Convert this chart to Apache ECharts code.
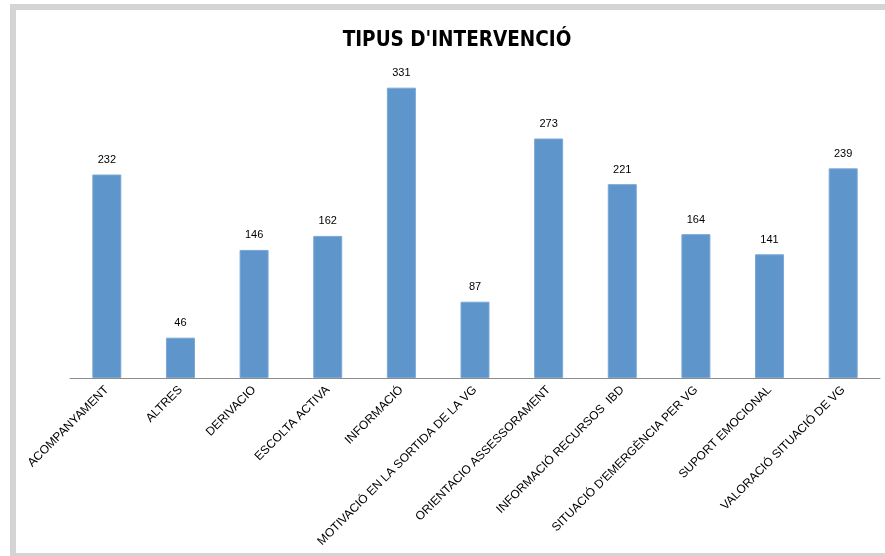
<!DOCTYPE html>
<html>
<head>
<meta charset="utf-8">
<script src="https://cdn.jsdelivr.net/npm/echarts@6/dist/echarts.min.js"></script>
<style>
html,body{margin:0;padding:0;background:#fff;width:885px;height:556px;overflow:hidden;}
#frame{position:absolute;left:10px;top:4px;width:900px;height:555px;box-sizing:border-box;border:6px solid #d4d4d4;pointer-events:none;}
#chart{position:absolute;left:0;top:0;width:885px;height:556px;}
</style>
</head>
<body>
<div id="frame"></div>
<div id="chart"></div>
<script>
const titleText = "TIPUS D'INTERVENCIÓ";
const categories = [
  "ACOMPANYAMENT",
  "ALTRES",
  "DERIVACIO",
  "ESCOLTA ACTIVA",
  "INFORMACIÓ",
  "MOTIVACIÓ EN LA SORTIDA DE LA VG",
  "ORIENTACIO ASSESSORAMENT",
  "INFORMACIÓ RECURSOS  IBD",
  "SITUACIÓ D'EMERGÈNCIA PER VG",
  "SUPORT EMOCIONAL",
  "VALORACIÓ SITUACIÓ DE VG"
];
const values = [232, 46, 146, 162, 331, 87, 273, 221, 164, 141, 239];

const chart = echarts.init(document.getElementById('chart'));
chart.setOption({
  animation: false,
  backgroundColor: 'transparent',
  title: {
    text: titleText,
    left: 452,
    textAlign: 'center',
    top: 25,
    textStyle: {fontFamily: 'DejaVu Sans Condensed', fontWeight: 'bold', fontSize: 20.5, color: '#000'}
  },
  grid: {left: 70, right: 5, top: 71, bottom: 178, containLabel: false},
  xAxis: {
    type: 'category',
    data: categories,
    axisLine: {lineStyle: {color: '#8c8c8c', width: 1}},
    axisTick: {show: false},
    axisLabel: {
      rotate: 45,
      interval: 0,
      margin: 10,
      color: '#000',
      fontFamily: 'Liberation Sans',
      fontSize: 12
    }
  },
  yAxis: {
    type: 'value',
    min: 0,
    max: 350,
    show: false
  },
  series: [{
    type: 'bar',
    data: values,
    barWidth: 29,
    itemStyle: {color: '#5e95ca', borderColor: '#7aa8d6', borderWidth: 1},
    label: {
      show: true,
      position: 'top',
      distance: 9,
      color: '#000',
      fontFamily: 'Liberation Sans',
      fontSize: 11
    }
  }]
});
</script>
</body>
</html>
